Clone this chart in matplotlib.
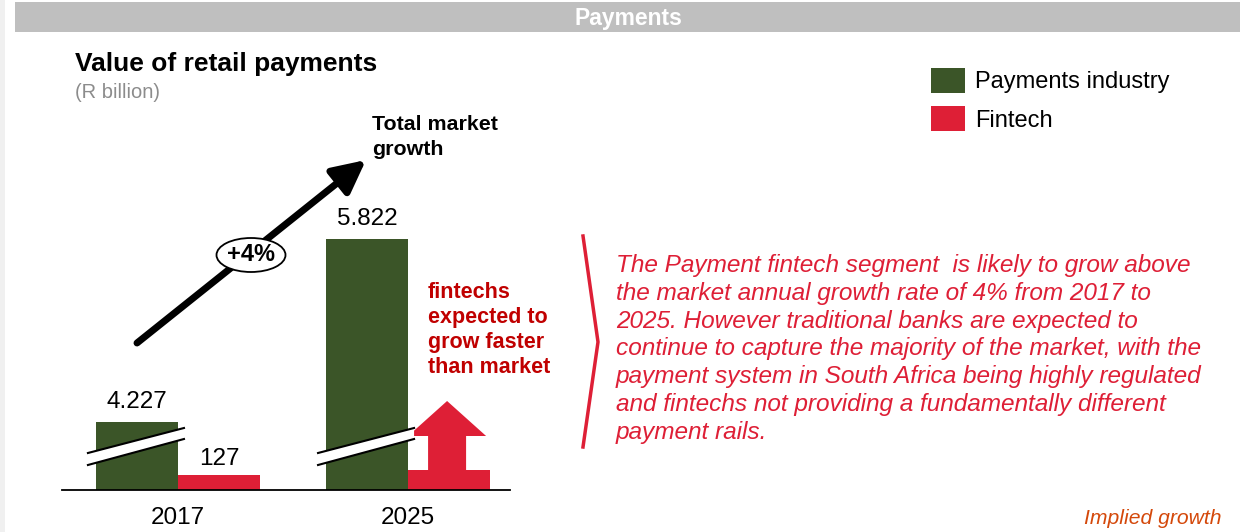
import numpy as np
import matplotlib.pyplot as plt
from matplotlib.patches import Rectangle, Ellipse, Polygon

plt.rcParams["font.family"] = ["Liberation Sans", "DejaVu Sans"]

years = ["2017", "2025"]
industry = [4227, 5822]  # R billion
fintech = [127, 174]  # 2025 fintech bar = 2017 value grown at market rate
industry_labels = ["4.227", "5.822"]
fintech_labels = ["127", ""]
market_growth = "+4%"

GREEN = "#3b5528"
RED = "#de1f36"
DARK_RED = "#c00000"

# broken y axis: values between BREAK and BREAK + GAP are cut out
BREAK, GAP = 400, 3630


def fwd(v):
    v = np.asarray(v, dtype=float)
    return np.where(v < BREAK, v, np.where(v < BREAK + GAP, BREAK, v - GAP))


def inv(y):
    y = np.asarray(y, dtype=float)
    return np.where(y < BREAK, y, y + GAP)


W, H = 1248, 532
fig = plt.figure(figsize=(W / 100, H / 100), dpi=100)
fig.patch.set_facecolor("white")


def fx(px):
    return px / W


def fy(py):  # pixel row from top -> figure fraction
    return 1 - py / H


# page furniture
fig.patches.append(Rectangle((0, 0), fx(5), 1, transform=fig.transFigure,
                             facecolor="#f0f0f0", edgecolor="none"))
fig.patches.append(Rectangle((fx(15), fy(32)), fx(1225), 30 / H,
                             transform=fig.transFigure, facecolor="#bfbfbf",
                             edgecolor="none"))
fig.text(fx(628), fy(19), "Payments", color="white", fontsize=16.5,
         fontweight="bold", ha="center", va="center")

fig.text(fx(75), fy(64), "Value of retail payments", fontsize=19,
         fontweight="bold", ha="left", va="center")
fig.text(fx(75), fy(93), "(R billion)", fontsize=14.5, color="#8c8c8c",
         ha="left", va="center")

# chart
ax = fig.add_axes([fx(62), 42 / H, 448 / W, 390 / H])
ax.set_yscale("function", functions=(fwd, inv))
ax.set_xlim(-0.504, 1.443)
ax.set_ylim(0, inv(3400))
ax.set_axis_off()
ax.axhline(0, color="black", lw=1.3, clip_on=False)

x = np.arange(len(years))
bw = 0.3565
ax.bar(x - bw / 2, industry, bw, color=GREEN, label="Payments industry")
ax.bar(x + bw / 2, fintech, bw, color=RED, label="Fintech")

for i in range(len(years)):
    ax.annotate(industry_labels[i], (x[i] - bw / 2, industry[i]),
                xytext=(0, 6), textcoords="offset points", ha="center",
                va="bottom", fontsize=17.5)
    if fintech_labels[i]:
        ax.annotate(fintech_labels[i], (x[i] + bw / 2, fintech[i]),
                    xytext=(0, 4), textcoords="offset points", ha="center",
                    va="bottom", fontsize=17.5)
    ax.annotate(years[i], (x[i], 0), xytext=(0, -12),
                textcoords="offset points", ha="center", va="top",
                fontsize=17.5)

# axis break marks across the industry bars
px = 1 / 230  # x data units per pixel
tr = ax.get_xaxis_transform()
for i in range(len(years)):
    x0 = x[i] - bw - 8 * px
    x1 = x[i] + 6 * px
    y0a, y1a = (490 - 453) / 390, (490 - 428) / 390
    y0b, y1b = (490 - 465) / 390, (490 - 439) / 390
    ax.add_patch(Polygon([(x0, y0a), (x1, y1a), (x1, y1b), (x0, y0b)],
                         closed=True, facecolor="white", edgecolor="none",
                         transform=tr, clip_on=False, zorder=3))
    ax.plot([x0, x1], [y0a, y1a], color="black", lw=1.5, transform=tr,
            clip_on=False, zorder=4)
    ax.plot([x0, x1], [y0b, y1b], color="black", lw=1.5, transform=tr,
            clip_on=False, zorder=4)

# implied growth arrow on the 2025 fintech bar
ybase = (490 - 470) / 390
ytop = (490 - 436) / 390
ytip = (490 - 401) / 390
ax.add_patch(Polygon([(x[1] + 20 * px, ybase), (x[1] + 58 * px, ybase),
                      (x[1] + 58 * px, ytop), (x[1] + 78 * px, ytop),
                      (x[1] + 39 * px, ytip), (x[1] + 0 * px, ytop),
                      (x[1] + 20 * px, ytop)],
                     closed=True, facecolor=RED, edgecolor="none",
                     transform=tr, clip_on=False, zorder=2))

# market growth arrow
fig.add_artist(plt.Annotation(
    "", xy=(366, H - 160), xytext=(137, H - 343), xycoords="figure pixels",
    textcoords="figure pixels",
    arrowprops=dict(arrowstyle="-|>,head_length=1.1,head_width=0.55",
                    lw=5, color="black", shrinkA=0, shrinkB=0,
                    mutation_scale=18)))
fig.patches.append(Ellipse((fx(251), fy(255)), fx(69), 34 / H,
                           transform=fig.transFigure, facecolor="white",
                           edgecolor="black", lw=1.3, zorder=5))
fig.text(fx(251), fy(254), market_growth, fontsize=17, fontweight="bold",
         ha="center", va="center", zorder=6)
fig.text(fx(372), fy(137), "Total market\ngrowth", fontsize=15.4,
         fontweight="bold", ha="left", va="center", linespacing=1.35)

fig.text(fx(428), fy(330), "fintechs\nexpected to\ngrow faster\nthan market",
         fontsize=15.5, fontweight="bold", color=DARK_RED, ha="left",
         va="center", linespacing=1.27)

# legend
fig.legend(loc="upper left", bbox_to_anchor=(fx(931), fy(68)),
           frameon=False, fontsize=17, handlelength=1.44,
           handleheight=1.25, handletextpad=0.42, labelspacing=0.55,
           borderpad=0, borderaxespad=0)

# commentary
fig.lines.append(plt.Line2D([fx(583), fx(598), fx(583)],
                            [fy(236), fy(342), fy(447)],
                            transform=fig.transFigure, color=RED, lw=2.5))
comment = ("The Payment fintech segment  is likely to grow above\n"
           "the market annual growth rate of 4% from 2017 to\n"
           "2025. However traditional banks are expected to\n"
           "continue to capture the majority of the market, with the\n"
           "payment system in South Africa being highly regulated\n"
           "and fintechs not providing a fundamentally different\n"
           "payment rails.")
fig.text(fx(616), fy(349), comment, fontsize=17.6, style="italic",
         color=RED, ha="left", va="center", linespacing=1.276)

fig.text(fx(1222), fy(519), "Implied growth", fontsize=15.2,
         style="italic", color="#d4480a", ha="right", va="center")

fig.savefig("out.png", dpi=100)
